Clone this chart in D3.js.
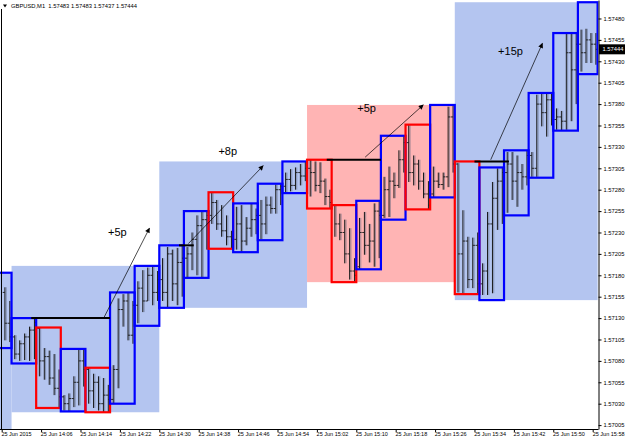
<!DOCTYPE html>
<html>
<head>
<meta charset="utf-8">
<script src="https://cdn.jsdelivr.net/npm/d3@7"></script>
<style>
  body { margin: 0; background: #fff; }
  svg { display: block; font-family: "Liberation Sans", Arial, sans-serif; }
</style>
</head>
<body>
<div id="chart"></div>
<script>
// GBPUSD M1, 25 Jun 2015 - M5 boxes grouped in half-hour zones
const base = 1.57;  // all levels below are points (0.00001) above this

// half-hour zones
const zoneStart = ["13:40", "14:00", "14:30", "15:00", "15:30"];
const zoneEnd   = ["14:00", "14:30", "15:00", "15:30", "15:59"];
const zoneHigh  = [183, 191, 313, 379, 499];
const zoneLow   = [-10, 20, 142, 172, 151];
const zoneDir   = ["up", "up", "up", "down", "up"];

// M5 boxes
const boxStart = ["13:55", "14:00", "14:05", "14:10", "14:15", "14:20", "14:25",
                  "14:30", "14:35", "14:40", "14:45", "14:50", "14:55",
                  "15:00", "15:05", "15:10", "15:15", "15:20", "15:25",
                  "15:30", "15:35", "15:40", "15:45", "15:50", "15:55"];
const boxHigh = [183, 130, 119, 94, 72, 160, 191, 215, 255, 277, 264, 287, 313,
                 315, 262, 267, 343, 356, 379, 313, 306, 326, 393, 463, 499];
const boxLow  = [95, 77, 25, 21, 20, 30, 121, 142, 177, 211, 207, 221, 276,
                 258, 172, 187, 245, 257, 271, 158, 151, 250, 294, 349, 415];
const boxDir  = ["up", "up", "down", "up", "down", "up", "up", "up", "up", "down", "up", "up", "up",
                 "down", "down", "up", "up", "down", "up", "down", "up", "up", "up", "up", "up"];
const lastBar = "15:58";

// M1 bars
const barTime = [
  "13:58", "13:59",
  "14:00", "14:01", "14:02", "14:03", "14:04", "14:05", "14:06", "14:07", "14:08", "14:09",
  "14:10", "14:11", "14:12", "14:13", "14:14", "14:15", "14:16", "14:17", "14:18", "14:19",
  "14:20", "14:21", "14:22", "14:23", "14:24", "14:25", "14:26", "14:27", "14:28", "14:29",
  "14:30", "14:31", "14:32", "14:33", "14:34", "14:35", "14:36", "14:37", "14:38", "14:39",
  "14:40", "14:41", "14:42", "14:43", "14:44", "14:45", "14:46", "14:47", "14:48", "14:49",
  "14:50", "14:51", "14:52", "14:53", "14:54", "14:55", "14:56", "14:57", "14:58", "14:59",
  "15:00", "15:01", "15:02", "15:03", "15:04", "15:05", "15:06", "15:07", "15:08", "15:09",
  "15:10", "15:11", "15:12", "15:13", "15:14", "15:15", "15:16", "15:17", "15:18", "15:19",
  "15:20", "15:21", "15:22", "15:23", "15:24", "15:25", "15:26", "15:27", "15:28", "15:29",
  "15:30", "15:31", "15:32", "15:33", "15:34", "15:35", "15:36", "15:37", "15:38", "15:39",
  "15:40", "15:41", "15:42", "15:43", "15:44", "15:45", "15:46", "15:47", "15:48", "15:49",
  "15:50", "15:51", "15:52", "15:53", "15:54", "15:55", "15:56", "15:57", "15:58"];
const barOpen = [
  160, 124,
  108, 88, 100, 108, 116, 118, 80, 85, 60, 48,
  38, 30, 36, 55, 80, 70, 45, 55, 30, 40,
  35, 70, 140, 150, 110, 145, 165, 150, 180, 160,
  175, 160, 205, 170, 195, 200, 205, 222, 238, 245,
  250, 265, 240, 232, 225, 222, 240, 220, 235, 245,
  250, 240, 262, 258, 280, 284, 292, 285, 300, 296,
  305, 300, 285, 290, 272, 262, 240, 230, 205, 185,
  190, 230, 215, 220, 255, 250, 280, 290, 285, 315,
  335, 300, 310, 290, 275, 275, 290, 286, 295, 365,
  310, 205, 220, 175, 215, 170, 185, 240, 270, 290,
  300, 310, 290, 300, 295, 320, 305, 380, 370, 385,
  362, 365, 360, 440, 420, 450, 440, 455, 450];
const barHigh = [
  166, 150,
  110, 104, 112, 120, 130, 119, 95, 92, 88, 70,
  40, 42, 62, 93, 94, 72, 65, 62, 60, 52,
  75, 153, 158, 160, 150, 173, 186, 189, 191, 185,
  200, 213, 210, 212, 215, 213, 230, 250, 255, 254,
  277, 268, 262, 250, 232, 260, 262, 248, 264, 258,
  268, 272, 272, 286, 287, 300, 304, 306, 310, 313,
  315, 313, 312, 293, 280, 262, 252, 245, 235, 200,
  247, 254, 240, 264, 267, 295, 307, 300, 326, 343,
  356, 320, 315, 300, 290, 307, 300, 300, 377, 379,
  311, 256, 225, 224, 230, 194, 254, 289, 305, 306,
  324, 324, 320, 310, 326, 324, 391, 393, 392, 392,
  375, 372, 463, 463, 462, 467, 468, 463, 463];
const barLow = [
  104, 102,
  82, 80, 81, 80, 82, 62, 58, 52, 40, 25,
  22, 21, 26, 28, 50, 30, 25, 22, 20, 20,
  30, 48, 120, 104, 100, 124, 137, 150, 145, 150,
  150, 142, 150, 145, 155, 178, 186, 180, 178, 210,
  240, 233, 225, 215, 211, 210, 207, 215, 225, 228,
  222, 228, 252, 252, 262, 276, 278, 280, 285, 290,
  272, 278, 276, 262, 258, 225, 221, 194, 175, 172,
  187, 204, 195, 190, 200, 247, 248, 270, 282, 300,
  289, 285, 280, 270, 257, 271, 282, 280, 283, 300,
  160, 159, 165, 165, 158, 157, 157, 159, 233, 240,
  253, 268, 260, 280, 285, 295, 295, 354, 342, 355,
  350, 349, 350, 360, 380, 418, 428, 428, 426];
const barClose = [
  124, 108,
  88, 100, 108, 116, 125, 80, 85, 60, 48, 38,
  30, 36, 55, 80, 70, 45, 55, 30, 40, 35,
  70, 140, 150, 110, 145, 165, 150, 180, 160, 175,
  160, 205, 170, 195, 200, 205, 222, 238, 245, 250,
  265, 240, 232, 225, 222, 240, 220, 235, 245, 250,
  240, 262, 258, 280, 284, 292, 285, 300, 296, 305,
  300, 285, 290, 272, 265, 240, 230, 205, 185, 180,
  230, 215, 220, 255, 250, 280, 290, 285, 315, 335,
  300, 310, 290, 275, 262, 290, 286, 295, 365, 310,
  205, 220, 175, 215, 170, 185, 240, 270, 290, 300,
  310, 290, 300, 295, 320, 305, 380, 370, 385, 362,
  365, 360, 440, 420, 450, 440, 455, 450, 444];

// breakout levels and projected moves
const lineStart = ["14:04", "14:34", "15:04", "15:34"];
const lineEnd   = ["14:20", "14:37", "15:15", "15:41"];
const lineLevel = [130, 215, 315, 313];
const arrowFromTime  = ["14:18.8", "14:35.9", "15:11.8", "15:37.3"];
const arrowFromLevel = [131, 217, 318, 315];
const arrowToTime    = ["14:28", "14:51.1", "15:23.6", "15:47.8"];
const arrowToLevel   = [235, 308, 379, 451];
const moveText  = ["+5p", "+8p", "+5p", "+15p"];
const moveTime  = ["14:19.6", "14:42", "15:10.2", "15:38.8"];
const moveLevel = [226, 320, 371, 437];

// axis labels
const priceTicks = [1.57005, 1.57030, 1.57055, 1.57080, 1.57105, 1.57130, 1.57155,
                    1.57180, 1.57205, 1.57230, 1.57255, 1.57280, 1.57305, 1.57330,
                    1.57355, 1.57380, 1.57405, 1.57430, 1.57455, 1.57480];
const timeTicks  = ["13:58", "14:06", "14:14", "14:22", "14:30", "14:38", "14:46", "14:54",
                    "15:02", "15:10", "15:18", "15:26", "15:34", "15:42", "15:50", "15:58"];
const timeLabels = ["25 Jun 2015", "25 Jun 14:06", "25 Jun 14:14", "25 Jun 14:22",
                    "25 Jun 14:30", "25 Jun 14:38", "25 Jun 14:46", "25 Jun 14:54",
                    "25 Jun 15:02", "25 Jun 15:10", "25 Jun 15:18", "25 Jun 15:26",
                    "25 Jun 15:34", "25 Jun 15:42", "25 Jun 15:50", "25 Jun 15:58"];
const titleText = "GBPUSD,M1  1.57483 1.57483 1.57437 1.57444";
const lastPrice = 444;

const W = 625, H = 440;
const plotR = 598.5, plotB = 429;

const toMin = s => { const [h, m] = s.split(":"); return +h * 60 + +m; };
const x = d3.scaleLinear().domain([toMin("13:58"), toMin("15:59")]).range([1.7, 597.6]);
const y = d3.scaleLinear().domain([1.5700044, 1.5750161]).range([plotB, 0]);
const py = v => y(base + v / 1e5);

const svg = d3.select("#chart").append("svg")
  .attr("width", W).attr("height", H);

svg.append("defs").append("clipPath").attr("id", "plot")
  .append("rect").attr("x", 0).attr("y", 0).attr("width", plotR).attr("height", plotB);

svg.select("defs").append("marker")
  .attr("id", "head").attr("viewBox", "0 0 10 10")
  .attr("refX", 9).attr("refY", 5)
  .attr("markerWidth", 6).attr("markerHeight", 5)
  .attr("markerUnits", "userSpaceOnUse")
  .attr("orient", "auto")
  .append("path").attr("d", "M0,0L10,5L0,10Z").attr("fill", "#000");

const plot = svg.append("g").attr("clip-path", "url(#plot)");

// zones
plot.append("g").selectAll("rect")
  .data(zoneStart.map((s, i) => i)).enter()
  .append("rect")
  .attr("x", i => x(toMin(zoneStart[i])))
  .attr("width", i => x(toMin(zoneEnd[i])) - x(toMin(zoneStart[i])))
  .attr("y", i => py(zoneHigh[i]))
  .attr("height", i => py(zoneLow[i]) - py(zoneHigh[i]))
  .attr("fill", i => zoneDir[i] === "up" ? "#b4c5f0" : "#ffb4b4");

// M1 bars
const bars = plot.append("g").selectAll("g")
  .data(barTime.map((t, i) => i)).enter()
  .append("g")
  .attr("transform", i => "translate(" + (x(toMin(barTime[i])) + 3.2) + ",0)");

bars.append("line")
  .attr("x1", 1.3).attr("x2", 1.3)
  .attr("y1", i => py(barHigh[i])).attr("y2", i => py(barLow[i]))
  .attr("stroke", "#56607a").attr("stroke-opacity", 0.55).attr("stroke-width", 1);
bars.append("line")
  .attr("x1", 0).attr("x2", 0)
  .attr("y1", i => py(barHigh[i])).attr("y2", i => py(barLow[i]))
  .attr("stroke", "#1a1a1a").attr("stroke-width", 1);
bars.append("line")
  .attr("x1", -2.2).attr("x2", 0)
  .attr("y1", i => py(barOpen[i])).attr("y2", i => py(barOpen[i]))
  .attr("stroke", "#1a1a1a").attr("stroke-width", 0.9);
bars.append("line")
  .attr("x1", 0).attr("x2", 2.2)
  .attr("y1", i => py(barClose[i])).attr("y2", i => py(barClose[i]))
  .attr("stroke", "#1a1a1a").attr("stroke-width", 0.9);

// M5 boxes
const endMin = toMin(lastBar) + 1;
plot.append("g").selectAll("rect")
  .data(boxStart.map((s, i) => i)).enter()
  .append("rect")
  .attr("x", i => x(toMin(boxStart[i])))
  .attr("width", i => x(Math.min(toMin(boxStart[i]) + 5, endMin)) - x(toMin(boxStart[i])))
  .attr("y", i => py(boxHigh[i]))
  .attr("height", i => py(boxLow[i]) - py(boxHigh[i]))
  .attr("fill", "none")
  .attr("stroke", i => boxDir[i] === "up" ? "#0000ff" : "#ff0000")
  .attr("stroke-width", 2.2);

// breakout lines
plot.append("g").selectAll("line")
  .data(lineStart.map((s, i) => i)).enter()
  .append("line")
  .attr("x1", i => x(toMin(lineStart[i])))
  .attr("x2", i => x(toMin(lineEnd[i])))
  .attr("y1", i => py(lineLevel[i]))
  .attr("y2", i => py(lineLevel[i]))
  .attr("stroke", "#000").attr("stroke-width", 2);

// arrows
plot.append("g").selectAll("line")
  .data(arrowFromTime.map((s, i) => i)).enter()
  .append("line")
  .attr("x1", i => x(toMin(arrowFromTime[i])))
  .attr("y1", i => py(arrowFromLevel[i]))
  .attr("x2", i => x(toMin(arrowToTime[i])))
  .attr("y2", i => py(arrowToLevel[i]))
  .attr("stroke", "#000").attr("stroke-width", 0.7)
  .attr("marker-end", "url(#head)");

plot.append("g").selectAll("text")
  .data(moveText.map((s, i) => i)).enter()
  .append("text")
  .attr("x", i => x(toMin(moveTime[i])))
  .attr("y", i => py(moveLevel[i]))
  .attr("font-size", 11)
  .attr("fill", "#000")
  .text(i => moveText[i]);

// left border
svg.append("line")
  .attr("x1", 1.5).attr("x2", 1.5).attr("y1", 9).attr("y2", plotB)
  .attr("stroke", "#000").attr("stroke-width", 1);

// price axis
const yAxis = svg.append("g")
  .attr("transform", "translate(" + plotR + ",0)")
  .call(d3.axisRight(y).tickValues(priceTicks).tickSize(3).tickSizeOuter(0)
    .tickPadding(2).tickFormat(d3.format(".5f")));
yAxis.selectAll("text").attr("font-size", 5.8).attr("font-family", "Liberation Sans").attr("fill", "#000");
yAxis.select(".domain").attr("stroke", "#000");

// time axis
const xAxis = svg.append("g")
  .attr("transform", "translate(0," + plotB + ")")
  .call(d3.axisBottom(x).tickValues(timeTicks.map(toMin)).tickSize(3).tickPadding(0)
    .tickFormat((d, i) => timeLabels[i]));
xAxis.select(".domain").remove();
xAxis.selectAll("text").attr("text-anchor", "start").attr("dx", -0.8)
  .attr("font-size", 5.5).attr("font-family", "Liberation Sans").attr("fill", "#000");
// last label is pulled in so it ends at the window edge
xAxis.selectAll(".tick").filter((d, i) => i === timeTicks.length - 1).select("text")
  .attr("text-anchor", "end").attr("dx", 0)
  .attr("x", W - 1 - x(toMin(timeTicks[timeTicks.length - 1])));
svg.append("line")
  .attr("x1", 0).attr("x2", plotR).attr("y1", plotB + 0.5).attr("y2", plotB + 0.5)
  .attr("stroke", "#000");

// current price tag
svg.append("rect")
  .attr("x", plotR + 0.5).attr("y", py(lastPrice) - 5)
  .attr("width", W - plotR).attr("height", 10).attr("fill", "#000");
svg.append("text")
  .attr("x", plotR + 4).attr("y", py(lastPrice) + 2)
  .attr("font-size", 5.8).attr("fill", "#fff")
  .text(d3.format(".5f")(base + lastPrice / 1e5));

// title
svg.append("path").attr("d", "M3,4.5L7,4.5L5,7.5Z").attr("fill", "#000");
svg.append("text")
  .attr("x", 11).attr("y", 8)
  .attr("font-size", 5.8).attr("fill", "#000")
  .attr("xml:space", "preserve")
  .style("white-space", "pre")
  .text(titleText);
</script>
</body>
</html>
